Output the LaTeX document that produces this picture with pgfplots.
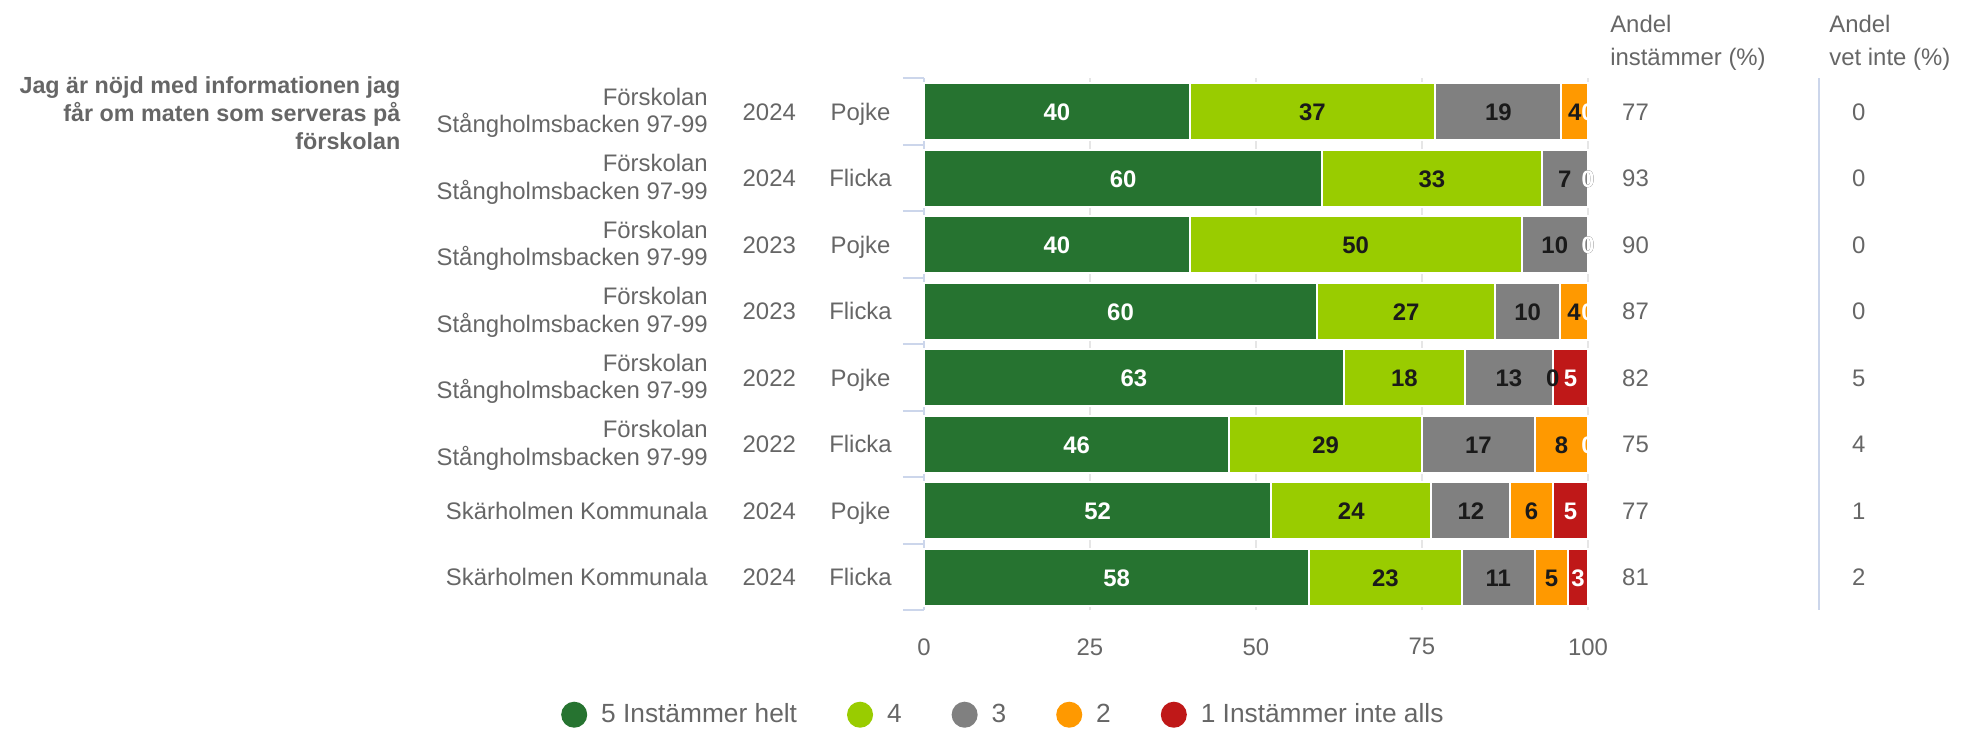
\documentclass[border=0pt]{standalone}
\usepackage{fontspec}
\setmainfont{Liberation Sans}
\usepackage{pgfplots}
\usepackage{pgfplotstable}
\pgfplotsset{compat=1.18}
\definecolor{c5}{HTML}{267330}
\definecolor{c4}{HTML}{99CC00}
\definecolor{c3}{HTML}{808080}
\definecolor{c2}{HTML}{FF9900}
\definecolor{c1}{HTML}{BF1818}
\definecolor{txt}{HTML}{666666}
\definecolor{axisblue}{HTML}{CCD6EB}
\definecolor{gridc}{HTML}{E6E6E6}
\definecolor{dark}{HTML}{1A1A1A}

% a* = segment lengths, n* = printed labels, m* = segment midpoints
\pgfplotstableread{
y a5 a4 a3 a2 a1 n5 n4 n3 n2 n1 m5 m4 m3 m2 m1
7 40 37 19 4 0 40 37 19 4 0 20 58.5 86.5 98 100
6 60 33 7 0 0 60 33 7 0 0 30 76.5 96.5 100 100
5 40 50 10 0 0 40 50 10 0 0 20 65 95 100 100
4 59.2 26.8 9.8 4.2 0 60 27 10 4 0 29.6 72.6 90.9 97.9 100
3 63.2 18.3 13.2 0 5.3 63 18 13 0 5 31.6 72.35 88.1 94.7 97.35
2 46 29 17 8 0 46 29 17 8 0 23 60.5 83.5 96 100
1 52.3 24.1 11.9 6.4 5.3 52 24 12 6 5 26.15 64.35 82.35 91.5 97.35
0 58 23 11 5 3 58 23 11 5 3 29 69.5 86.5 94.5 98.5
}\datatable

\newcommand{\labfont}{\fontsize{12}{13.8}\selectfont}
\newcommand{\barfont}{\bfseries\fontsize{12}{14}\selectfont}

\tikzset{
  rl/.style={inner sep=0pt, text=txt, font=\labfont},
  rc/.style={inner sep=0pt, text=txt, font=\labfont, anchor=base, yshift=-4.3bp},
  rw/.style={inner sep=0pt, text=txt, font=\labfont, anchor=base west, yshift=-4.3bp},
}

\begin{document}
\begin{tikzpicture}
\begin{axis}[
  x=3.32bp, y=33.25bp, xmin=0, xmax=100, ymin=-0.5, ymax=7.5,
  xbar stacked, bar width=28.5bp,
  axis x line*=bottom, axis y line*=left,
  x axis line style={draw=none},
  y axis line style={draw=axisblue, line width=1bp},
  xtick={0,25,50,75,100},
  xticklabels={0,25,50,75,100},
  xtick style={draw=none},
  ytick={-0.5,0.5,...,7.5},
  yticklabels={},
  ytick style={draw=axisblue, line width=1bp},
  tick align=outside,
  major tick length=10.5bp,
  xmajorgrids,
  major grid style={draw=gridc, line width=1bp},
  xticklabel style={font=\labfont, text=txt, yshift=0bp},
  clip=false,
  legend columns=5,
  legend style={draw=none, fill=none, at={(0.121,-0.196)}, anchor=center,
    font=\fontsize{13.2}{16}\selectfont, text=txt,
    /tikz/every odd column/.append style={column sep=5bp},
    /tikz/every even column/.append style={column sep=23bp}},
]
\addplot[fill=c5, draw=white, line width=1bp,
  legend image code/.code={\fill[c5] (0bp,0bp) circle (6bp);}]
  table[x=a5, y=y]{\datatable};
\addlegendentry{5 Instämmer helt}
\addplot[fill=c4, draw=white, line width=1bp,
  legend image code/.code={\fill[c4] (0bp,0bp) circle (6bp);}]
  table[x=a4, y=y]{\datatable};
\addlegendentry{4}
\addplot[fill=c3, draw=white, line width=1bp,
  legend image code/.code={\fill[c3] (0bp,0bp) circle (6bp);}]
  table[x=a3, y=y]{\datatable};
\addlegendentry{3}
\addplot[fill=c2, draw=white, line width=1bp,
  legend image code/.code={\fill[c2] (0bp,0bp) circle (6bp);}]
  table[x=a2, y=y]{\datatable};
\addlegendentry{2}
\addplot[fill=c1, draw=white, line width=1bp,
  legend image code/.code={\fill[c1] (0bp,0bp) circle (6bp);}]
  table[x=a1, y=y]{\datatable};
\addlegendentry{1 Instämmer inte alls}

% question
\node[anchor=east, align=right, inner sep=0pt, text=txt,
  font=\bfseries\fontsize{11.7}{14}\selectfont] at (axis cs:-78.8,6.98)
  {Jag är nöjd med informationen jag\\får om maten som serveras på\\förskolan};

% row labels
\node[rl, anchor=east, align=right] at (axis cs:-32.5,6.98) {Förskolan\\Stångholmsbacken 97-99};
\node[rl, anchor=east, align=right] at (axis cs:-32.5,5.98) {Förskolan\\Stångholmsbacken 97-99};
\node[rl, anchor=east, align=right] at (axis cs:-32.5,4.98) {Förskolan\\Stångholmsbacken 97-99};
\node[rl, anchor=east, align=right] at (axis cs:-32.5,3.98) {Förskolan\\Stångholmsbacken 97-99};
\node[rl, anchor=east, align=right] at (axis cs:-32.5,2.98) {Förskolan\\Stångholmsbacken 97-99};
\node[rl, anchor=east, align=right] at (axis cs:-32.5,1.98) {Förskolan\\Stångholmsbacken 97-99};
\node[rw, anchor=base east] at (axis cs:-32.5,1) {Skärholmen Kommunala};
\node[rw, anchor=base east] at (axis cs:-32.5,0) {Skärholmen Kommunala};

\node[rc] at (axis cs:-23.3,7) {2024};
\node[rc] at (axis cs:-23.3,6) {2024};
\node[rc] at (axis cs:-23.3,5) {2023};
\node[rc] at (axis cs:-23.3,4) {2023};
\node[rc] at (axis cs:-23.3,3) {2022};
\node[rc] at (axis cs:-23.3,2) {2022};
\node[rc] at (axis cs:-23.3,1) {2024};
\node[rc] at (axis cs:-23.3,0) {2024};

\node[rc] at (axis cs:-9.56,7) {Pojke};
\node[rc] at (axis cs:-9.56,6) {Flicka};
\node[rc] at (axis cs:-9.56,5) {Pojke};
\node[rc] at (axis cs:-9.56,4) {Flicka};
\node[rc] at (axis cs:-9.56,3) {Pojke};
\node[rc] at (axis cs:-9.56,2) {Flicka};
\node[rc] at (axis cs:-9.56,1) {Pojke};
\node[rc] at (axis cs:-9.56,0) {Flicka};

% right columns
\node[rl, anchor=west, align=left, font=\fontsize{12}{16.5}\selectfont] at (axis cs:103.3,8.03) {Andel\\instämmer (\%)};
\node[rl, anchor=west, align=left, font=\fontsize{12}{16.5}\selectfont] at (axis cs:136.3,8.03) {Andel\\vet inte (\%)};

\node[rw] at (axis cs:105.1,7) {77};
\node[rw] at (axis cs:105.1,6) {93};
\node[rw] at (axis cs:105.1,5) {90};
\node[rw] at (axis cs:105.1,4) {87};
\node[rw] at (axis cs:105.1,3) {82};
\node[rw] at (axis cs:105.1,2) {75};
\node[rw] at (axis cs:105.1,1) {77};
\node[rw] at (axis cs:105.1,0) {81};

\node[rc] at (axis cs:140.8,7) {0};
\node[rc] at (axis cs:140.8,6) {0};
\node[rc] at (axis cs:140.8,5) {0};
\node[rc] at (axis cs:140.8,4) {0};
\node[rc] at (axis cs:140.8,3) {5};
\node[rc] at (axis cs:140.8,2) {4};
\node[rc] at (axis cs:140.8,1) {1};
\node[rc] at (axis cs:140.8,0) {2};

\draw[axisblue, line width=1bp] (axis cs:134.8,7.5) -- (axis cs:134.8,-0.5);

\coordinate (TL) at (axis cs:-139.16,8.68);
\coordinate (BR) at (axis cs:156.63,-2.33);
\end{axis}

% labels on the segments
\begin{axis}[x=3.32bp, y=33.25bp, xmin=0, xmax=100, ymin=-0.5, ymax=7.5,
  hide axis, clip=true,
  nodes near coords, point meta=explicit symbolic]
\addplot[draw=none, mark=none, every node near coord/.append style={anchor=base, yshift=-4.6bp, text=white, font=\barfont, inner sep=0pt}]
  table[x=m5, y=y, meta=n5]{\datatable};
\addplot[draw=none, mark=none, every node near coord/.append style={anchor=base, yshift=-4.6bp, text=dark, font=\barfont, inner sep=0pt}]
  table[x=m4, y=y, meta=n4]{\datatable};
\addplot[draw=none, mark=none, every node near coord/.append style={anchor=base, yshift=-4.6bp, text=dark, font=\barfont, inner sep=0pt}]
  table[x=m3, y=y, meta=n3]{\datatable};
\addplot[draw=none, mark=none, every node near coord/.append style={anchor=base, yshift=-4.6bp, text=dark, font=\barfont, inner sep=0pt}]
  table[x=m2, y=y, meta=n2]{\datatable};
\addplot[draw=none, mark=none, every node near coord/.append style={anchor=base, yshift=-4.6bp, text=white, font=\barfont, inner sep=0pt}]
  table[x=m1, y=y, meta=n1]{\datatable};
\end{axis}
\pgfresetboundingbox
\useasboundingbox (TL) rectangle (BR);
\end{tikzpicture}
\end{document}
